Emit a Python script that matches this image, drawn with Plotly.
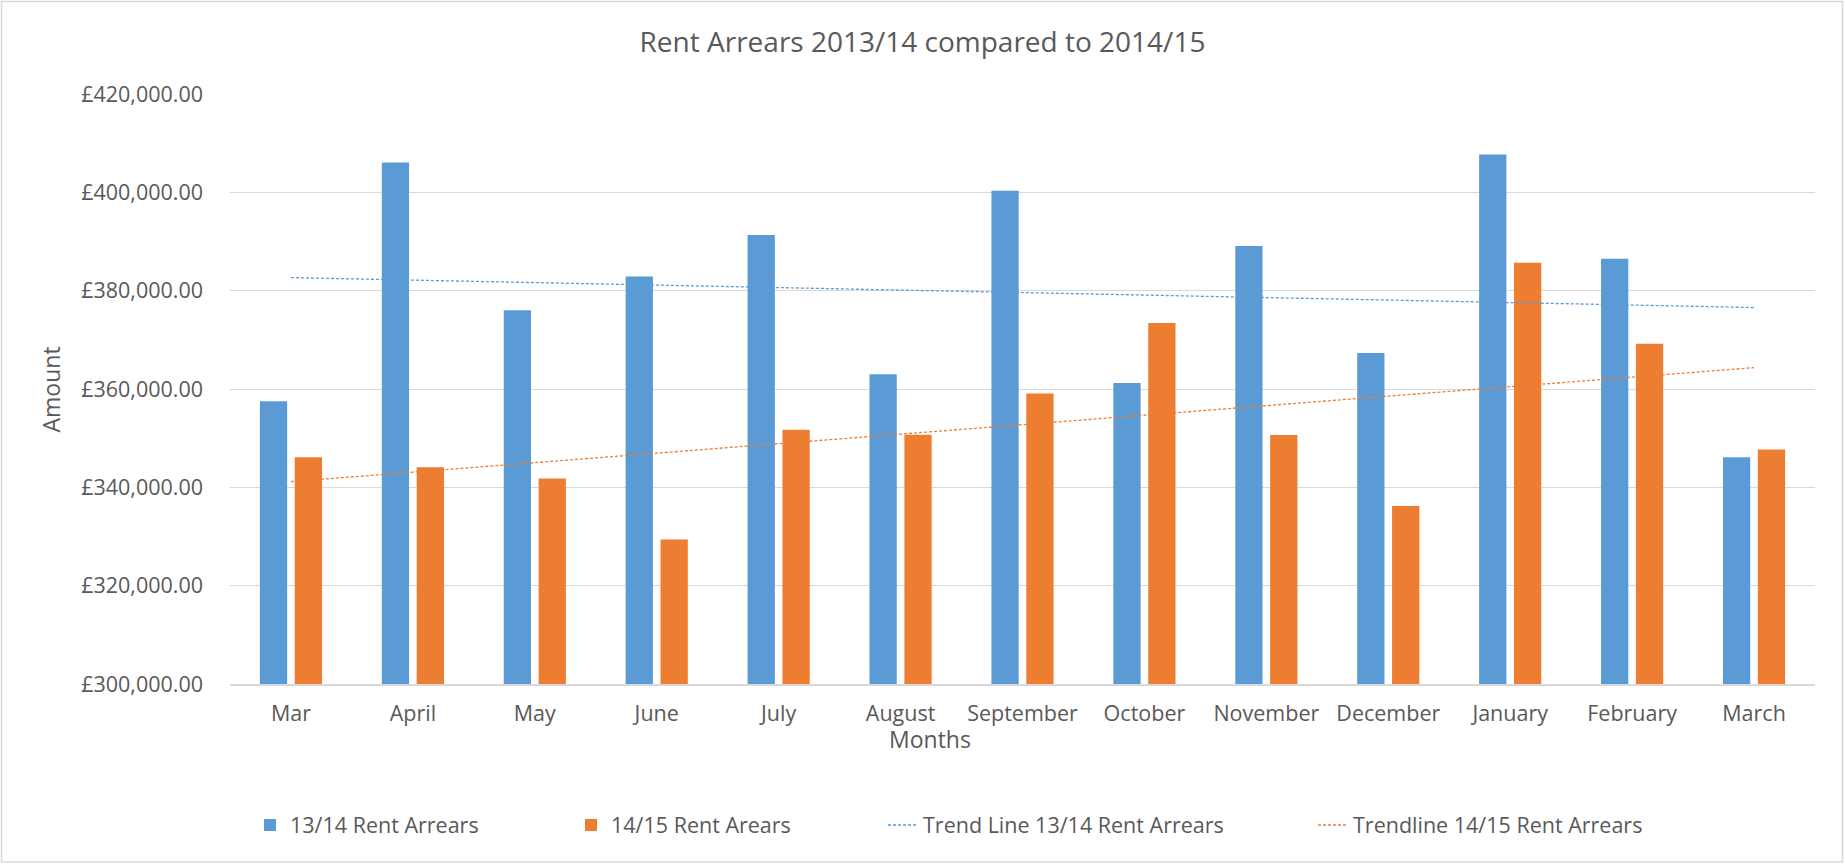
import numpy as np
import plotly.graph_objects as go

# ---- data ----
months = ["Mar", "April", "May", "June", "July", "August", "September",
          "October", "November", "December", "January", "February", "March"]
arrears_1314 = [357500, 406050, 376000, 382900, 391300, 363000, 400300,
                361200, 389100, 367300, 407700, 386500, 346100]
arrears_1415 = [346100, 344100, 341800, 329400, 351700, 350700, 359100,
                373400, 350650, 336200, 385700, 369200, 347700]
y_ticks = [300000, 320000, 340000, 360000, 380000, 400000, 420000]
y_tick_labels = ["£300,000.00", "£320,000.00", "£340,000.00", "£360,000.00",
                 "£380,000.00", "£400,000.00", "£420,000.00"]

# linear trend lines (least squares over month index)
idx = np.arange(1, len(months) + 1)
trend_1314 = np.polyval(np.polyfit(idx, arrears_1314, 1), idx)
trend_1415 = np.polyval(np.polyfit(idx, arrears_1415, 1), idx)

# ---- geometry ----
W, H = 1845, 865
ML, MR, MT, MB = 230, 30, 94, 181
PW, PH = W - ML - MR, H - MT - MB


def px_x(x):
    return (x - ML) / PW


def px_y(y):
    return (H - MB - y) / PH


BLUE = "#5B9BD5"
ORANGE = "#ED7D31"
TXT = "#595959"
GRID = "#D9D9D9"
FONT = "Open Sans"

fig = go.Figure()
fig.add_trace(go.Bar(x=months, y=arrears_1314, name="13/14 Rent Arrears",
                     marker=dict(color=BLUE, line=dict(width=0)), legend="legend"))
fig.add_trace(go.Bar(x=months, y=arrears_1415, name="14/15 Rent Arears",
                     marker=dict(color=ORANGE, line=dict(width=0)), legend="legend2"))
fig.add_trace(go.Scatter(x=months, y=trend_1314, mode="lines",
                         name="Trend Line 13/14 Rent Arrears",
                         line=dict(color=BLUE, width=1.3, dash="3px,2px"),
                         legend="legend3"))
fig.add_trace(go.Scatter(x=months, y=trend_1415, mode="lines",
                         name="Trendline 14/15 Rent Arrears",
                         line=dict(color=ORANGE, width=1.3, dash="3px,2px"),
                         legend="legend4"))


def leg(xpix):
    return dict(x=px_x(xpix), xanchor="left", y=px_y(825), yanchor="middle",
                orientation="h", bgcolor="rgba(0,0,0,0)", borderwidth=0,
                font=dict(family=FONT, size=21.5, color=TXT))


fig.update_layout(
    width=W, height=H,
    margin=dict(l=ML, r=MR, t=MT, b=MB, pad=0),
    paper_bgcolor="white", plot_bgcolor="white",
    font=dict(family=FONT, color=TXT),
    barmode="group", bargap=0.428, bargroupgap=0.218,
    showlegend=True,
    legend=leg(250), legend2=leg(571), legend3=leg(883), legend4=leg(1313),
    title=dict(text="Rent Arrears 2013/14 compared to 2014/15",
               font=dict(family=FONT, size=28, color=TXT),
               x=0.5, xref="container", xanchor="center",
               y=1 - 42 / H, yref="container", yanchor="middle"),
    xaxis=dict(type="category", range=[-0.5, len(months) - 0.5],
               showgrid=False, showline=True, linecolor=GRID, linewidth=1.5,
               ticks="", tickfont=dict(family=FONT, size=21.5, color=TXT),
               ticklabelstandoff=9, fixedrange=True),
    yaxis=dict(range=[y_ticks[0], y_ticks[-1]], tickmode="array",
               tickvals=y_ticks, ticktext=y_tick_labels,
               showgrid=True, gridcolor=GRID, gridwidth=1.3,
               showline=False, zeroline=False, ticks="",
               tickfont=dict(family=FONT, size=21.5, color=TXT),
               ticklabelstandoff=26, fixedrange=True),
    annotations=[
        dict(text="Amount", textangle=-90, showarrow=False,
             xref="paper", yref="paper", x=px_x(50), y=px_y(389.5),
             xanchor="center", yanchor="middle",
             font=dict(family=FONT, size=23, color=TXT)),
        dict(text="Months", showarrow=False,
             xref="paper", yref="paper", x=px_x(930), y=px_y(739),
             xanchor="center", yanchor="middle",
             font=dict(family=FONT, size=23, color=TXT)),
    ],
    shapes=[dict(type="rect", xref="paper", yref="paper", layer="below",
                 x0=px_x(1.5), x1=px_x(1842.5), y0=px_y(862), y1=px_y(1.5),
                 line=dict(color=GRID, width=1.5), fillcolor="rgba(0,0,0,0)")],
)

fig.write_html("out.html",
               config={"displayModeBar": False},
               post_script="document.body.style.margin='0';"
                           "document.body.style.overflow='hidden';")
